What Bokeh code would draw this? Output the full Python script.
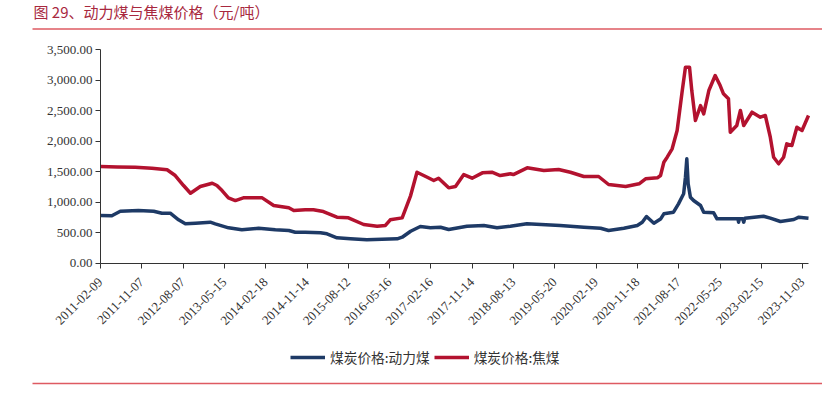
import math
import pandas as pd
from bokeh.plotting import figure
from bokeh.models import (Range1d, FixedTicker, NumeralTickFormatter, Label,
                          BoxAnnotation, Legend, LegendItem)
from bokeh.embed import file_html
from bokeh.resources import INLINE

# ---------------- data ----------------
coking_dates = [
    "2011-02-09", "2011-06-01", "2011-09-27", "2012-01-15", "2012-04-25", "2012-06-18",
    "2012-08-12", "2012-09-27", "2012-12-01", "2013-02-18", "2013-03-21", "2013-04-24",
    "2013-06-05", "2013-07-21", "2013-09-12", "2014-01-15", "2014-04-01", "2014-07-10",
    "2014-08-12", "2014-10-27", "2014-12-20", "2015-02-24", "2015-05-25", "2015-08-09",
    "2015-11-18", "2016-02-15", "2016-04-10", "2016-05-12", "2016-07-30", "2016-09-24",
    "2016-11-05", "2017-01-12", "2017-02-24", "2017-03-28", "2017-06-03", "2017-07-18",
    "2017-09-11", "2017-11-05", "2018-01-12", "2018-03-16", "2018-05-10", "2018-07-16",
    "2018-08-05", "2018-11-05", "2019-02-23", "2019-06-01", "2019-08-18", "2019-11-15",
    "2020-02-21", "2020-04-27", "2020-08-18", "2020-11-15", "2020-12-28", "2021-03-16",
    "2021-04-06", "2021-04-28", "2021-05-20", "2021-06-22", "2021-07-25", "2021-08-28",
    "2021-09-18", "2021-10-15", "2021-10-30", "2021-11-23", "2021-12-27", "2022-01-17",
    "2022-02-20", "2022-04-03", "2022-05-06", "2022-05-28", "2022-06-30", "2022-07-12",
    "2022-08-24", "2022-09-17", "2022-10-09", "2022-12-03", "2023-01-27", "2023-03-01",
    "2023-04-03", "2023-04-25", "2023-05-28", "2023-06-30", "2023-07-21", "2023-08-24",
    "2023-09-26", "2023-10-30", "2023-12-12",
]
coking_price = [
    1580, 1575, 1570, 1555, 1528, 1434,
    1270, 1144, 1254, 1308, 1270, 1188,
    1068, 1024, 1068, 1068, 942, 905,
    860, 872, 872, 844, 751, 740,
    631, 603, 615, 708, 740, 1106,
    1488, 1406, 1352, 1390, 1232, 1254,
    1450, 1390, 1478, 1488, 1434, 1462,
    1450, 1560, 1516, 1532, 1488, 1418,
    1418, 1287, 1254, 1298, 1380, 1396,
    1434, 1652, 1734, 1872, 2172, 2827,
    3209, 3209, 2827, 2336, 2581, 2445,
    2827, 3073, 2909, 2773, 2691, 2144,
    2254, 2500, 2254, 2472, 2390, 2418,
    2062, 1734, 1626, 1734, 1954, 1926,
    2226, 2172, 2418,
]

thermal_dates = [
    "2011-02-09", "2011-04-25", "2011-06-20", "2011-10-18", "2012-01-27", "2012-03-22",
    "2012-05-16", "2012-07-10", "2012-08-24", "2012-10-30", "2013-02-05", "2013-03-10",
    "2013-06-06", "2013-09-02", "2013-12-22", "2014-04-12", "2014-07-10", "2014-08-22",
    "2014-10-27", "2015-02-05", "2015-03-20", "2015-05-25", "2015-08-22", "2015-12-09",
    "2016-06-27", "2016-07-30", "2016-09-24", "2016-11-27", "2017-02-02", "2017-04-10",
    "2017-06-03", "2017-10-02", "2018-01-22", "2018-04-19", "2018-07-16", "2018-11-03",
    "2019-06-11", "2019-11-15", "2020-03-05", "2020-04-27", "2020-08-06", "2020-11-03",
    "2020-12-06", "2021-01-03", "2021-02-21", "2021-04-06", "2021-04-28", "2021-07-01",
    "2021-08-03", "2021-09-06", "2021-09-18", "2021-09-27", "2021-10-06", "2021-10-21",
    "2021-11-11", "2021-12-27", "2022-01-17", "2022-03-24", "2022-04-15", "2022-08-24",
    "2022-09-01", "2022-09-05", "2022-09-09", "2022-10-02", "2022-10-09", "2022-10-16",
    "2023-02-17", "2023-04-03", "2023-06-09", "2023-09-06", "2023-10-09", "2023-12-12",
]
thermal_price = [
    780, 775, 849, 860, 849, 816,
    816, 708, 642, 652, 669, 642,
    577, 544, 570, 544, 533, 505,
    505, 495, 478, 413, 396, 380,
    396, 423, 521, 598, 577, 587,
    549, 603, 615, 577, 603, 642,
    615, 587, 570, 533, 570, 615,
    669, 762, 652, 720, 806, 833,
    970, 1134, 1406, 1708, 1298, 1078,
    1024, 942, 833, 822, 724, 724,
    724, 669, 724, 724, 669, 735,
    767, 735, 680, 713, 751, 735,
]

x_tick_labels = [
    "2011-02-09", "2011-11-07", "2012-08-07", "2013-05-15", "2014-02-18", "2014-11-14",
    "2015-08-12", "2016-05-16", "2017-02-16", "2017-11-14", "2018-08-13", "2019-05-20",
    "2020-02-19", "2020-11-18", "2021-08-17", "2022-05-25", "2023-02-15", "2023-11-03",
]
y_ticks = [0, 500, 1000, 1500, 2000, 2500, 3000, 3500]

series_names = ["煤炭价格:动力煤", "煤炭价格:焦煤"]
title_text = "图 29、动力煤与焦煤价格（元/吨）"

# ---------------- styles / layout (pixels) ----------------
BLUE = "#1E3A66"
RED = "#B3122F"
TITLE_RED = "#A8283E"
RULE_RED = "#DE5A62"
AXIS = "#333333"
W, H = 822, 398
AX_L, AX_R = 100, 808          # x-axis line extent
AX_T, AX_B = 49, 262.5         # y-axis top (3500) and bottom (0)

to_ms = lambda d: int(pd.Timestamp(d).value // 10**6)
t0 = to_ms(x_tick_labels[0])
t1 = to_ms(x_tick_labels[-1])
n = len(x_tick_labels)
tick_pos = [int(round(t0 + i * (t1 - t0) / (n - 1))) for i in range(n)]
x_end = max(to_ms(coking_dates[-1]), to_ms(thermal_dates[-1]))

# ranges chosen so the frame is the whole canvas and axes sit where the reference has them
ms_per_px = (x_end - t0) / (AX_R - AX_L)
v_per_px = (y_ticks[-1] - y_ticks[0]) / (AX_B - AX_T)
x_range = Range1d(t0 - AX_L * ms_per_px, x_end + (W - AX_R) * ms_per_px)
y_range = Range1d(y_ticks[0] - (H - AX_B) * v_per_px, y_ticks[-1] + AX_T * v_per_px)

p = figure(width=W, height=H, x_axis_type="datetime", output_backend="svg",
           toolbar_location=None, min_border=0, x_range=x_range, y_range=y_range)

cx = pd.to_datetime(coking_dates)
tx = pd.to_datetime(thermal_dates)
r_thermal = p.line(tx, thermal_price, line_color=BLUE, line_width=3.5, line_join="round")
r_coking = p.line(cx, coking_price, line_color=RED, line_width=3.5, line_join="round")

p.xgrid.grid_line_color = None
p.ygrid.grid_line_color = None
p.outline_line_color = None

for ax in (p.xaxis[0], p.yaxis[0]):
    ax.axis_line_color = AXIS
    ax.axis_line_width = 1
    ax.major_tick_line_color = AXIS
    ax.major_tick_in = 0
    ax.major_tick_out = 5
    ax.minor_tick_line_color = None
    ax.major_label_text_font = "Liberation Serif"
    ax.major_label_text_font_size = "13px"
    ax.major_label_text_color = "#333333"

p.yaxis[0].fixed_location = t0
p.yaxis[0].bounds = (y_ticks[0], y_ticks[-1])
p.yaxis[0].ticker = FixedTicker(ticks=y_ticks)
p.yaxis[0].formatter = NumeralTickFormatter(format="0,0.00")
p.yaxis[0].major_label_standoff = 3

p.xaxis[0].fixed_location = y_ticks[0]
p.xaxis[0].bounds = (t0, x_end)
p.xaxis[0].ticker = FixedTicker(ticks=tick_pos)
p.xaxis[0].major_label_overrides = {tp: lbl for tp, lbl in zip(tick_pos, x_tick_labels)}
p.xaxis[0].major_label_orientation = math.pi / 4
p.xaxis[0].major_label_standoff = 12

# title and rules (screen units: x from left, y from bottom)
p.add_layout(Label(x=33, y=H - 10.5, x_units="screen", y_units="screen",
                   text=title_text, text_font="Noto Sans CJK SC", text_font_size="15px",
                   text_color=TITLE_RED, text_baseline="middle", text_align="left"))
for ry in (28.5, 383):
    p.add_layout(BoxAnnotation(left=32, right=W, top=H - ry + 0.65, bottom=H - ry - 0.65,
                               left_units="screen", right_units="screen",
                               top_units="screen", bottom_units="screen",
                               fill_color=RULE_RED, fill_alpha=1, line_color=None))

legend = Legend(items=[LegendItem(label=series_names[0], renderers=[r_thermal]),
                       LegendItem(label=series_names[1], renderers=[r_coking])],
                location=(290, H - 358 - 9), orientation="horizontal",
                glyph_width=35, glyph_height=18, label_standoff=5, spacing=4, padding=0,
                margin=0, border_line_color=None, background_fill_alpha=0,
                label_text_font="Noto Sans CJK SC", label_text_font_size="13.7px",
                label_text_color="#333333")
p.add_layout(legend)

open("out.html", "w").write(file_html(p, INLINE))
